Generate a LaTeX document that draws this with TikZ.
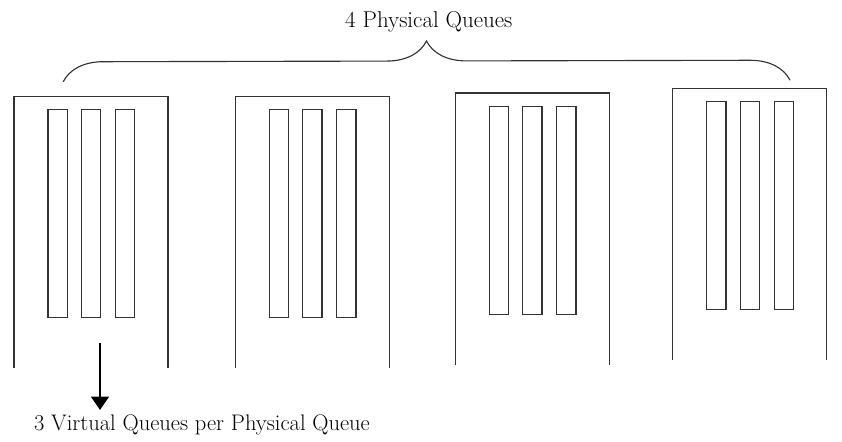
\documentclass[tikz,border=0pt]{standalone}
\usepackage{tikz}
\usetikzlibrary{arrows.meta,decorations.pathreplacing}

\tikzset{
    vqueue/.style={draw=black!80, line width=0.8pt, minimum width=0.48cm, minimum height=5.2cm, inner sep=0pt, anchor=north},
    label/.style={font=\fontsize{16}{18}\selectfont}
}

\begin{document}
\begin{tikzpicture}
    \useasboundingbox (0,0) rectangle (21.05,11.025);

    % Physical queues (open at the bottom) with 3 virtual queues each
    \foreach \x/\y [count=\i] in {0.35/8.62, 5.88/8.62, 11.38/8.70, 16.82/8.82} {
        \draw[black!80, line width=0.8pt] (\x,\y-6.8) -- (\x,\y) -- (\x+3.85,\y) -- (\x+3.85,\y-6.8);
        \foreach \dx [count=\j] in {1.09,1.93,2.78}
            \node[vqueue] (q\i-\j) at (\x+\dx,\y-0.32) {};
    }

    % Brace
    \coordinate (bl) at (1.58,8.98);
    \coordinate (br) at (19.75,9.02);
    \draw[black!80, line width=0.8pt, decorate, decoration={brace, amplitude=1cm}] (bl) -- (br);
    \node[label, font=\fontsize{16.3}{18}\selectfont] (pq) at (10.72,10.47) {4 Physical Queues};

    % Arrow and label
    \coordinate (start) at (2.5,2.45);
    \node[label] (vq) at (5.05,0.4) {3 Virtual Queues per Physical Queue};
    \draw[-{Triangle[length=0.33cm,width=0.45cm]}, line width=0.8pt] (start) -- (start |- vq.north) ;
\end{tikzpicture}
\end{document}
